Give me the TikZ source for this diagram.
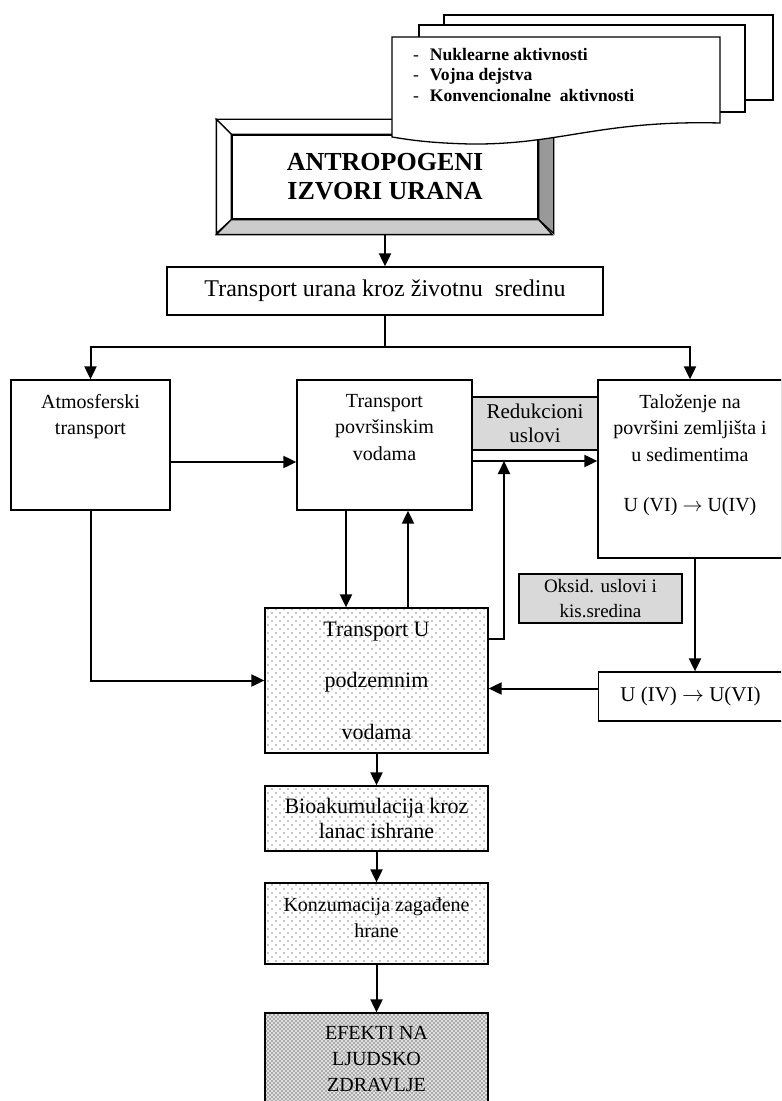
\documentclass[tikz,border=0pt]{standalone}
\usepackage{fontspec}
\setmainfont{Liberation Serif}
\usetikzlibrary{arrows.meta,patterns}

\pgfdeclarepatternformonly{lightdots}{\pgfqpoint{-1pt}{-1pt}}{\pgfqpoint{5pt}{5pt}}{\pgfqpoint{4pt}{4pt}}{%
  \pgfpathcircle{\pgfqpoint{0pt}{0pt}}{0.4pt}%
  \pgfpathcircle{\pgfqpoint{2pt}{2pt}}{0.4pt}%
  \pgfusepath{fill}}
\pgfdeclarepatternformonly{densedots}{\pgfqpoint{-1pt}{-1pt}}{\pgfqpoint{3pt}{3pt}}{\pgfqpoint{2pt}{2pt}}{%
  \pgfpathcircle{\pgfqpoint{0pt}{0pt}}{0.45pt}%
  \pgfpathcircle{\pgfqpoint{1pt}{1pt}}{0.45pt}%
  \pgfusepath{fill}}

\begin{document}
\begin{tikzpicture}
[>={Triangle[length=6.5pt,width=6pt]},
 x=0.5pt, y=-0.5pt, line width=1pt,
 box/.style={shape=rectangle,draw,line width=0.65pt,fill=white,align=center,inner sep=2pt},
 greybox/.style={box,fill=black!15},
 dotbox/.style={box,pattern=lightdots,pattern color=black!45},
 densebox/.style={box,preaction={fill=black!12},pattern=densedots,pattern color=black!55},
 lbl/.style={anchor=north,yshift=-7pt,align=center,inner sep=0pt,font=\fontsize{10}{13.25}\selectfont},
 toptext/.style={label={[lbl]north:#1}},
 sheet/.style={draw,line width=0.65pt,fill=white}]
\clip (0,0) rectangle (781,1101);
% izvori
\node[box,minimum width=153pt,minimum height=42pt,font=\fontsize{13}{14.5}\selectfont\bfseries] (src) at (385,177) {ANTROPOGENI\\IZVORI URANA};
\draw[line width=0.65pt,fill=white] (src.north west) -- ++(-15,-15) -- ++(336,0) -- (src.north east) -- cycle;
\draw[line width=0.65pt,fill=white] (src.north west) -- ++(-15,-15) -- ++(0,114) -- (src.south west) -- cycle;
\draw[line width=0.65pt,fill=black!40] (src.north east) -- ++(15,-15) -- ++(0,114) -- (src.south east) -- cycle;
\draw[line width=0.65pt,fill=black!20] (src.south west) -- ++(-15,15) -- ++(336,0) -- (src.south east) -- cycle;
% dokumenti
\draw[sheet] (444,15) rectangle (773,100);
\draw[sheet] (419,25) rectangle (745,112);
\draw[sheet] (392,37) -- (720,37) -- (720,123) .. controls (600,120) and (560,145) .. (470,144) .. controls (430,143) and (410,140) .. (392,137) -- cycle;
\node[anchor=north west,inner sep=0pt,align=left,font=\fontsize{8.8}{10.25}\selectfont] (kinds) at (412,47)
  {-\hspace{5.5pt}\textbf{Nuklearne aktivnosti}\\-\hspace{5.5pt}\textbf{Vojna dejstva}\\-\hspace{5.5pt}\textbf{Konvencionalne~ aktivnosti}};
% transport
\node[box,minimum width=218pt,minimum height=24pt,font=\fontsize{12}{14}\selectfont] (env) at (385,291) {Transport urana kroz životnu~ sredinu};
\node[box,minimum width=79.5pt,minimum height=65pt,toptext={Atmosferski\\transport}] (atm) at (90.5,445) {};
\node[box,minimum width=87.5pt,minimum height=65pt,toptext={Transport\\površinskim\\vodama}] (pov) at (384.5,445) {};
\node[greybox,minimum width=63pt,minimum height=26.5pt,font=\fontsize{10.5}{12}\selectfont] (red) at (535,423.5) {Redukcioni\\uslovi};
\node[box,minimum width=92pt,minimum height=89pt,toptext={Taloženje na\\površini zemljišta i\\u sedimentima\\[12pt]U (VI) $\rightarrow$ U(IV)}] (tal) at (690,469) {};
\node[greybox,inner sep=1pt,minimum width=81.5pt,minimum height=24.5pt,font=\fontsize{9.5}{12.5}\selectfont] (oks) at (600.5,598.5) {Oksid. uslovi i\\kis.sredina};
\node[box,minimum width=92pt,minimum height=24.5pt,font=\fontsize{10.5}{12}\selectfont] (uiv) at (690.5,696.5) {U (IV) $\rightarrow$ U(VI)};
\node[dotbox,minimum width=111.5pt,minimum height=72.5pt,font=\fontsize{11}{25.75}\selectfont] (tU) at (376.5,680.5) {Transport U\\podzemnim\\vodama};
\node[dotbox,minimum width=111.5pt,minimum height=32.5pt,font=\fontsize{11}{12.5}\selectfont] (bio) at (376.5,818.5) {Bioakumulacija kroz\\lanac ishrane};
\node[dotbox,minimum width=111.5pt,minimum height=40.5pt,toptext={Konzumacija zagađene\\hrane}] (kon) at (376.5,923.5) {};
\node[densebox,minimum width=111.5pt,minimum height=46pt,font=\fontsize{10}{13}\selectfont] (eff) at (376.5,1059) {EFEKTI NA\\LJUDSKO\\ZDRAVLJE};
\coordinate (fork) at (385,347);
\coordinate (lift) at (504,461);
% veze
\draw[->] ([yshift=-7.5pt]src.south) -- (env);
\draw (env) -- (fork);
\draw[->] (fork) -| (atm);
\draw[->] (fork) -| (tal);
\draw[->] ([yshift=-8.5pt]atm.east) -- ([yshift=-8.5pt]pov.west);
\draw[->] ([yshift=-8pt]pov.east) -- ([yshift=4pt]tal.west);
\draw[->] ([xshift=-19.25pt]pov.south) -- ([xshift=-15.25pt]tU.north);
\draw[->] ([xshift=15.75pt]tU.north) -- ([xshift=11.75pt]pov.south);
\draw[->] ([yshift=20.75pt]tU.east) -| (lift);
\draw[->] (atm) |- (tU);
\draw[->] ([xshift=2.5pt]tal.south) -- ([xshift=2.25pt]uiv.north);
\draw[->] ([yshift=4pt]uiv.west) -- ([yshift=-4pt]tU.east);
\draw[->] (tU) -- (bio);
\draw[->] (bio) -- (kon);
\draw[->] (kon) -- (eff);
\end{tikzpicture}
\end{document}
